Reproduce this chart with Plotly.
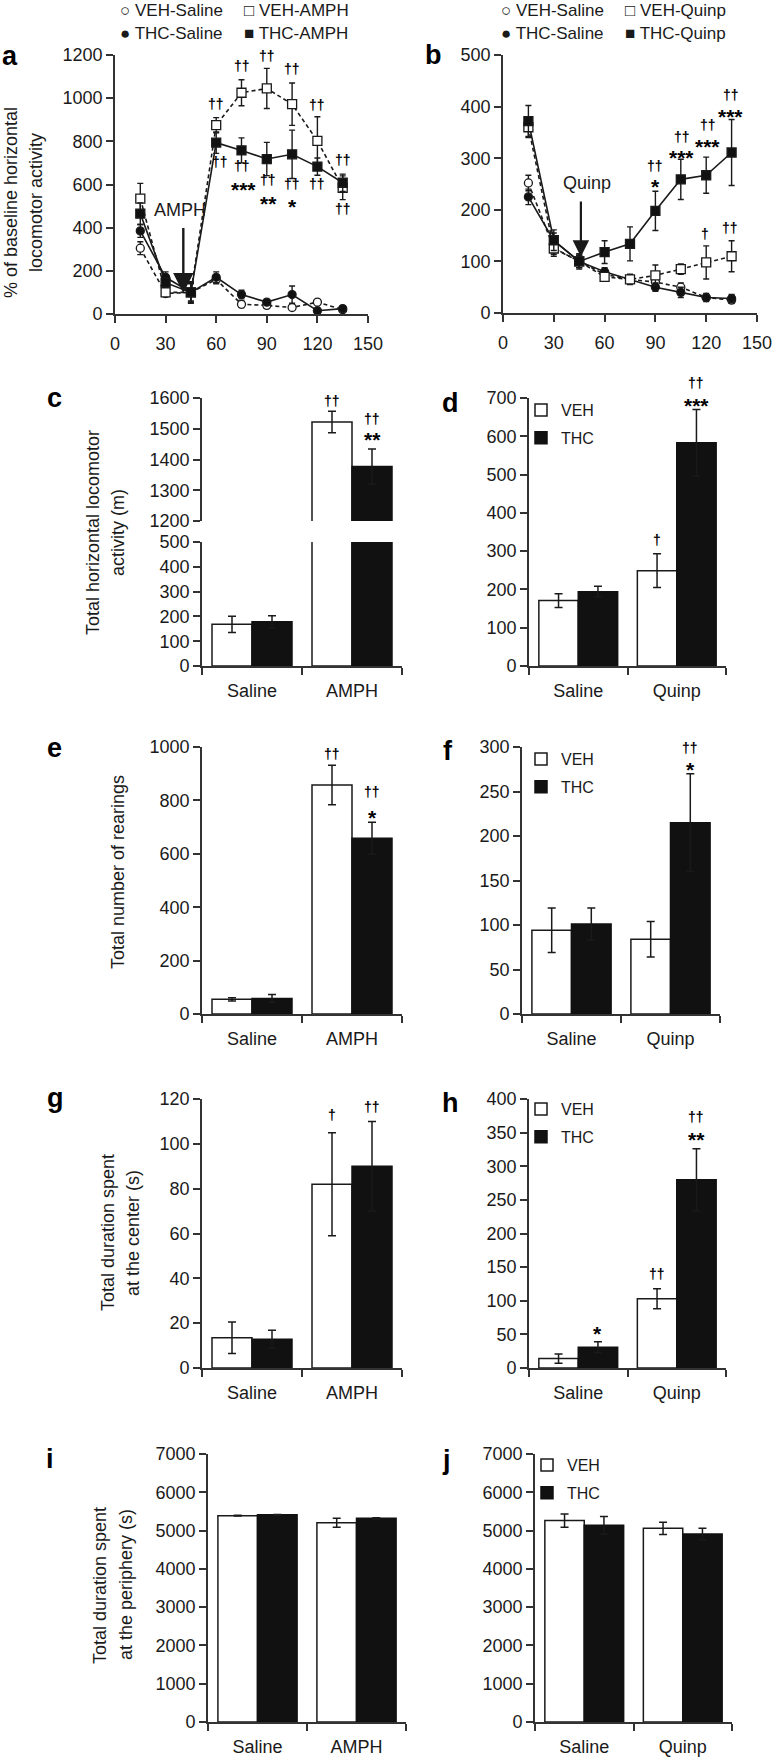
import plotly.graph_objects as go

W, H = 774, 1757
FONT = "Liberation Sans, Arial, Helvetica, sans-serif"
INK = "#1a1a1a"
AX = "#333333"
BLACKBAR = "#111111"

# ---------------- data ----------------
time_min = [15, 30, 45, 60, 75, 90, 105, 120, 135]

# panel a (% of baseline, AMPH)
a_veh_saline = [305, 95, 100, 160, 45, 40, 30, 55, 20]
a_veh_saline_err = [30, 15, 40, 20, 15, 10, 10, 10, 8]
a_thc_saline = [385, 170, 100, 170, 90, 55, 90, 15, 25]
a_thc_saline_err = [30, 25, 45, 25, 20, 10, 40, 10, 10]
a_veh_amph = [535, 100, 100, 875, 1025, 1045, 972, 802, 585]
a_veh_amph_err = [70, 15, 45, 35, 60, 93, 98, 112, 55]
a_thc_amph = [465, 145, 100, 794, 758, 718, 740, 683, 608]
a_thc_amph_err = [50, 20, 50, 50, 58, 77, 112, 40, 40]

# panel b (% of baseline, Quinpirole)
b_veh_saline = [252, 126, 100, 75, 65, 60, 50, 30, 25]
b_veh_saline_err = [15, 12, 12, 8, 8, 8, 8, 6, 6]
b_thc_saline = [225, 140, 100, 80, 65, 50, 40, 30, 28]
b_thc_saline_err = [15, 15, 12, 8, 8, 8, 10, 8, 8]
b_veh_quinp = [360, 125, 100, 70, 65, 73, 85, 98, 110]
b_veh_quinp_err = [20, 15, 12, 8, 10, 20, 10, 32, 30]
b_thc_quinp = [372, 141, 100, 118, 134, 198, 259, 267, 311]
b_thc_quinp_err = [30, 20, 15, 22, 33, 38, 39, 35, 64]

# bar panels
cats_amph = ["Saline", "AMPH"]
cats_quinp = ["Saline", "Quinp"]
group_names = ["VEH", "THC"]

c_veh = [168, 1522]; c_veh_err = [33, 35]
c_thc = [178, 1377]; c_thc_err = [25, 57]
d_veh = [171, 249]; d_veh_err = [18, 44]
d_thc = [194, 583]; d_thc_err = [14, 87]
e_veh = [55, 858]; e_veh_err = [6, 74]
e_thc = [58, 658]; e_thc_err = [15, 60]
f_veh = [94, 84]; f_veh_err = [25, 20]
f_thc = [101, 215]; f_thc_err = [18, 55]
g_veh = [13.5, 82]; g_veh_err = [7, 23]
g_thc = [12.8, 90]; g_thc_err = [4, 20]
h_veh = [14, 103]; h_veh_err = [7, 15]
h_thc = [31, 280]; h_thc_err = [8, 46]
i_veh = [5390, 5205]; i_veh_err = [10, 115]
i_thc = [5410, 5320]; i_thc_err = [10, 15]
j_veh = [5260, 5060]; j_veh_err = [175, 160]
j_thc = [5140, 4910]; j_thc_err = [230, 150]

# significance marks (x, y, text) in data units
a_sig = [(60, 961, "††"), (75, 1135, "††"), (90, 1182, "††"), (105, 1123, "††"),
         (120, 953, "††"), (135, 698, "††"),
         (62, 690, "††"), (75, 670, "††"), (76, 605, "***"), (91, 608, "††"),
         (91, 539, "**"), (105, 590, "††"), (105, 528, "*"), (120, 590, "††"),
         (135, 474, "††")]
b_sig = [(90, 280, "††"), (90, 256, "*"), (105.5, 335, "††"), (105.5, 313, "***"),
         (121, 359, "††"), (121, 335, "***"), (134.5, 417, "††"), (134.5, 393, "***"),
         (119.5, 148, "†"), (134, 158, "††")]
c_sig = [(0.8, 1580, "††"), (1.2, 1523, "††"), (1.2, 1483, "**")]
d_sig = [(0.8, 321, "†"), (1.2, 731, "††"), (1.2, 695, "***")]
e_sig = [(0.8, 963, "††"), (1.2, 820, "††"), (1.2, 760, "*")]
f_sig = [(1.2, 296, "††"), (1.2, 282, "*")]
g_sig = [(0.8, 111.6, "†"), (1.2, 115, "††")]
h_sig = [(0.2, 59.5, "*"), (0.8, 135, "††"), (1.2, 369, "††"), (1.2, 349, "**")]

# legend labels of the time-course panels
a_legend = [("○ VEH-Saline", "● THC-Saline"), ("□ VEH-AMPH", "■ THC-AMPH")]
b_legend = [("○ VEH-Saline", "● THC-Saline"), ("□ VEH-Quinp", "■ THC-Quinp")]


# ---------------- helpers ----------------
def xd(l, r):
    return [l / W, r / W]


def yd(t, b):
    return [1 - b / H, 1 - t / H]


def lin_axis(domain, rng, dtick, anchor, standoff=None):
    d = dict(domain=domain, range=rng, dtick=dtick, tick0=0, anchor=anchor,
             showline=True, linecolor=AX, linewidth=1.6, ticks="outside",
             ticklen=7, tickwidth=1.6, tickcolor=AX, showgrid=False,
             zeroline=False, fixedrange=True,
             tickfont=dict(family=FONT, size=18, color=INK))
    if standoff is not None:
        d["ticklabelstandoff"] = standoff
    return d


def cat_axis(domain, cats, anchor):
    n = len(cats)
    return dict(domain=domain, range=[-0.5, n - 0.5], tickmode="array",
                tickvals=list(range(n)), ticktext=cats, ticks="",
                ticklabelstandoff=8, anchor=anchor,
                showline=True, linecolor=AX, linewidth=1.6, showgrid=False,
                zeroline=False, fixedrange=True,
                tickfont=dict(family=FONT, size=18, color=INK),
                minor=dict(tickmode="array",
                           tickvals=[k - 0.5 for k in range(n + 1)],
                           ticks="outside", ticklen=7, tickwidth=1.6,
                           tickcolor=AX, showgrid=False))


fig = go.Figure()


def line_panel(xa, ya, series):
    for vals, err, sym, fill, dash, name in series:
        fig.add_trace(go.Scatter(x=time_min, y=vals, mode="lines",
                                 line=dict(color=INK, width=1.6, dash=dash),
                                 showlegend=False, hoverinfo="skip",
                                 xaxis=xa, yaxis=ya))
    for vals, err, sym, fill, dash, name in series:
        size = 8 if sym == "circle" else 9
        fig.add_trace(go.Scatter(x=time_min, y=vals, mode="markers", name=name,
                                 marker=dict(symbol=sym, size=size, color=fill,
                                             line=dict(color=INK, width=1.3)),
                                 error_y=dict(type="data", array=err, color=INK,
                                              thickness=1.4, width=3),
                                 showlegend=False, xaxis=xa, yaxis=ya))


def bar_panel(xa, ya, cats, veh, veh_err, thc, thc_err, leg=None):
    idx = list(range(len(cats)))
    show = leg is not None
    fig.add_trace(go.Bar(x=idx, y=veh, name=group_names[0],
                         marker=dict(color="white", line=dict(color=INK, width=1.5)),
                         error_y=dict(type="data", array=veh_err, color=INK,
                                      thickness=1.5, width=4),
                         showlegend=show, legend=leg if show else "legend",
                         legendgroup=(leg or "") + "veh",
                         xaxis=xa, yaxis=ya))
    fig.add_trace(go.Bar(x=idx, y=thc, name=group_names[1],
                         marker=dict(color=BLACKBAR, line=dict(color=BLACKBAR, width=1.5)),
                         error_y=dict(type="data", array=thc_err, color=INK,
                                      thickness=1.5, width=4),
                         showlegend=show, legend=leg if show else "legend",
                         legendgroup=(leg or "") + "thc",
                         xaxis=xa, yaxis=ya))


DASH = "4px,3px"
line_panel("x", "y", [
    (a_veh_saline, a_veh_saline_err, "circle", "white", DASH, "VEH-Saline"),
    (a_thc_saline, a_thc_saline_err, "circle", BLACKBAR, "solid", "THC-Saline"),
    (a_veh_amph, a_veh_amph_err, "square", "white", DASH, "VEH-AMPH"),
    (a_thc_amph, a_thc_amph_err, "square", BLACKBAR, "solid", "THC-AMPH"),
])
line_panel("x2", "y2", [
    (b_veh_saline, b_veh_saline_err, "circle", "white", DASH, "VEH-Saline"),
    (b_thc_saline, b_thc_saline_err, "circle", BLACKBAR, "solid", "THC-Saline"),
    (b_veh_quinp, b_veh_quinp_err, "square", "white", DASH, "VEH-Quinp"),
    (b_thc_quinp, b_thc_quinp_err, "square", BLACKBAR, "solid", "THC-Quinp"),
])
bar_panel("x3", "y3", cats_amph, c_veh, c_veh_err, c_thc, c_thc_err)
bar_panel("x3", "y4", cats_amph, c_veh, c_veh_err, c_thc, c_thc_err)
bar_panel("x4", "y5", cats_quinp, d_veh, d_veh_err, d_thc, d_thc_err, "legend5")
bar_panel("x5", "y6", cats_amph, e_veh, e_veh_err, e_thc, e_thc_err)
bar_panel("x6", "y7", cats_quinp, f_veh, f_veh_err, f_thc, f_thc_err, "legend6")
bar_panel("x7", "y8", cats_amph, g_veh, g_veh_err, g_thc, g_thc_err)
bar_panel("x8", "y9", cats_quinp, h_veh, h_veh_err, h_thc, h_thc_err, "legend7")
bar_panel("x9", "y10", cats_amph, i_veh, i_veh_err, i_thc, i_thc_err)
bar_panel("x10", "y11", cats_quinp, j_veh, j_veh_err, j_thc, j_thc_err, "legend8")

ydom = {
    "y": (yd(55, 314), [0, 1200]), "y2": (yd(55, 313), [0, 500]),
    "y3": (yd(542, 666), [0, 500]), "y4": (yd(398, 521), [1200, 1600]),
    "y5": (yd(398, 666), [0, 700]), "y6": (yd(747, 1014), [0, 1000]),
    "y7": (yd(747, 1014), [0, 300]), "y8": (yd(1099, 1368), [0, 120]),
    "y9": (yd(1099, 1368), [0, 400]), "y10": (yd(1454, 1722), [0, 7000]),
    "y11": (yd(1454, 1722), [0, 7000]),
}

layout_axes = dict(
    xaxis=lin_axis(xd(115, 368), [0, 150], 30, "y", standoff=6),
    yaxis=lin_axis(ydom["y"][0], [0, 1200], 200, "x"),
    xaxis2=lin_axis(xd(503, 757), [0, 150], 30, "y2", standoff=6),
    yaxis2=lin_axis(ydom["y2"][0], [0, 500], 100, "x2"),
    xaxis3=cat_axis(xd(202, 402), cats_amph, "y3"),
    yaxis3=lin_axis(ydom["y3"][0], [0, 500], 100, "x3"),
    yaxis4=lin_axis(ydom["y4"][0], [1200, 1600], 100, "x3"),
    xaxis4=cat_axis(xd(529, 726), cats_quinp, "y5"),
    yaxis5=lin_axis(ydom["y5"][0], [0, 700], 100, "x4"),
    xaxis5=cat_axis(xd(202, 402), cats_amph, "y6"),
    yaxis6=lin_axis(ydom["y6"][0], [0, 1000], 200, "x5"),
    xaxis6=cat_axis(xd(522, 720), cats_quinp, "y7"),
    yaxis7=lin_axis(ydom["y7"][0], [0, 300], 50, "x6"),
    xaxis7=cat_axis(xd(202, 402), cats_amph, "y8"),
    yaxis8=lin_axis(ydom["y8"][0], [0, 120], 20, "x7"),
    xaxis8=cat_axis(xd(529, 726), cats_quinp, "y9"),
    yaxis9=lin_axis(ydom["y9"][0], [0, 400], 50, "x8"),
    xaxis9=cat_axis(xd(208, 406), cats_amph, "y10"),
    yaxis10=lin_axis(ydom["y10"][0], [0, 7000], 1000, "x9"),
    xaxis10=cat_axis(xd(535, 732), cats_quinp, "y11"),
    yaxis11=lin_axis(ydom["y11"][0], [0, 7000], 1000, "x10"),
)


def to_paper(yax, v):
    dom, rng = ydom[yax]
    return dom[0] + (v - rng[0]) / (rng[1] - rng[0]) * (dom[1] - dom[0])


annotations = []


def add_sig(xa, ya, marks):
    for x, y, txt in marks:
        star = "*" in txt
        annotations.append(dict(
            x=x, y=to_paper(ya, y), xref=xa, yref="paper", text=txt,
            showarrow=False, xanchor="center", yanchor="middle",
            yshift=-6 if star else 3,
            font=dict(family="Liberation Sans, Arial, sans-serif",
                      size=21 if star else 14, color="#000", weight="bold")))


add_sig("x", "y", a_sig)
add_sig("x2", "y2", b_sig)
add_sig("x3", "y4", c_sig)
add_sig("x4", "y5", d_sig)
add_sig("x5", "y6", e_sig)
add_sig("x6", "y7", f_sig)
add_sig("x7", "y8", g_sig)
add_sig("x8", "y9", h_sig)

# drug injection arrows
annotations.append(dict(x=40.5, y=96, xref="x", yref="y", ax=40.5, ay=405,
                        axref="x", ayref="y", showarrow=True, text="",
                        arrowhead=2, arrowsize=1.7, arrowwidth=2.4,
                        arrowcolor=INK, standoff=0))
annotations.append(dict(x=38.5, y=482, xref="x", yref="y", text="AMPH",
                        showarrow=False, font=dict(family=FONT, size=18, color=INK)))
annotations.append(dict(x=46, y=109, xref="x2", yref="y2", ax=46, ay=219,
                        axref="x2", ayref="y2", showarrow=True, text="",
                        arrowhead=2, arrowsize=1.5, arrowwidth=2.2,
                        arrowcolor=INK, standoff=0))
annotations.append(dict(x=49.4, y=251, xref="x2", yref="y2", text="Quinp",
                        showarrow=False, font=dict(family=FONT, size=18, color=INK)))

# legends of time-course panels (two columns, two rows each)
for cols, xs in [(a_legend, (119, 243)), (b_legend, (500, 624))]:
    for (top, bottom), px in zip(cols, xs):
        for txt, py in [(top, 0), (bottom, 23)]:
            annotations.append(dict(x=px / W, y=1 - py / H, xref="paper", yref="paper",
                                    text=txt, showarrow=False, xanchor="left",
                                    yanchor="top", borderpad=0,
                                    font=dict(family=FONT, size=17, color=INK)))

# panel letters
for letter, px, py in [("a", 0, 56), ("b", 423, 55), ("c", 45, 398), ("d", 440, 403),
                       ("e", 45, 748), ("f", 441, 751), ("g", 45, 1098),
                       ("h", 440, 1103), ("i", 44, 1459), ("j", 440, 1460)]:
    annotations.append(dict(x=px / W, y=1 - py / H, xref="paper", yref="paper",
                            text=letter, showarrow=False, xanchor="left",
                            yanchor="middle",
                            font=dict(family=FONT, size=27, color="#000", weight="bold")))

# y-axis titles (two-line titles drawn line by line)
for txt, px, py in [("% of baseline horizontal", 11, 203), ("locomotor activity", 36, 203),
                    ("Total horizontal locomotor", 93, 533), ("activity (m)", 118, 533),
                    ("Total number of rearings", 118, 872),
                    ("Total duration spent", 108, 1233), ("at the center (s)", 133, 1233),
                    ("Total duration spent", 100, 1585), ("at the periphery (s)", 126, 1585)]:
    annotations.append(dict(x=px / W, y=1 - py / H, xref="paper", yref="paper",
                            text=txt, textangle=-90, showarrow=False,
                            xanchor="center", yanchor="middle",
                            font=dict(family=FONT, size=18, color=INK)))


def mklegend(xpx, ypx, size=16, gap=4):
    return dict(x=xpx / W, y=1 - ypx / H, xanchor="left", yanchor="top",
                bgcolor="rgba(0,0,0,0)", borderwidth=0, orientation="v",
                tracegroupgap=gap, itemclick=False, itemdoubleclick=False,
                font=dict(family=FONT, size=size, color=INK))


fig.update_layout(
    width=W, height=H, autosize=False,
    margin=dict(l=0, r=0, t=0, b=0, pad=0, autoexpand=False),
    paper_bgcolor="white", plot_bgcolor="white",
    barmode="group", bargap=0.2, bargroupgap=0,
    showlegend=True,
    legend5=mklegend(521, 393),
    legend6=mklegend(521, 742),
    legend7=mklegend(521, 1092),
    legend8=mklegend(527, 1448),
    annotations=annotations,
    font=dict(family=FONT, color=INK),
    **layout_axes,
)

fig.write_html("out.html",
               config={"displayModeBar": False, "staticPlot": False},
               post_script="document.body.style.margin='0px';"
                           "document.body.style.overflow='hidden';")
